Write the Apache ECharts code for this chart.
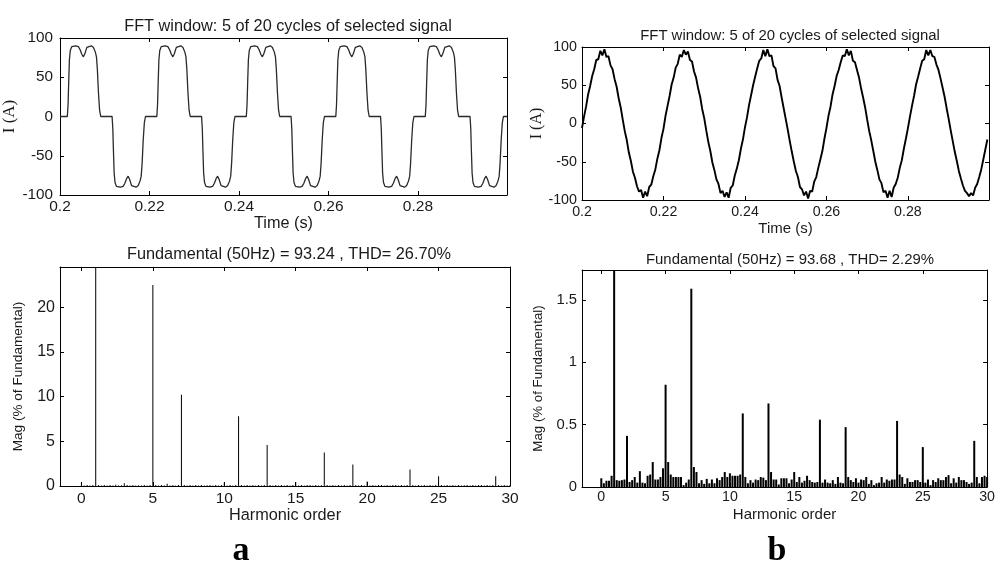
<!DOCTYPE html>
<html><head><meta charset="utf-8">
<script src="https://cdn.jsdelivr.net/npm/echarts@6/dist/echarts.min.js"></script>
<style>html,body{margin:0;padding:0;background:#fff}#c{width:998px;height:565px}</style>
</head><body><div id="c"></div>
<script>
// ---- Panel a: time signal ----
const leftTime = [
0.2,0.20164,0.2018,0.20195,0.2021,0.2023,0.20262,0.203,0.2035,0.20411,0.2045,0.2049,0.20523,0.20555,0.206,0.2064,0.207,0.20748,0.2079,0.20815,0.20835,0.2086,0.20885,0.2091,
0.21164,0.2118,0.21195,0.2121,0.2123,0.21262,0.213,0.2135,0.21411,0.2145,0.2149,0.21523,0.21555,0.216,0.2164,0.217,0.21748,0.2179,0.21815,0.21835,0.2186,0.21885,0.2191,
0.22,0.22164,0.2218,0.22195,0.2221,0.2223,0.22262,0.223,0.2235,0.22411,0.2245,0.2249,0.22523,0.22555,0.226,0.2264,0.227,0.22748,0.2279,0.22815,0.22835,0.2286,0.22885,0.2291,
0.23164,0.2318,0.23195,0.2321,0.2323,0.23262,0.233,0.2335,0.23411,0.2345,0.2349,0.23523,0.23555,0.236,0.2364,0.237,0.23748,0.2379,0.23815,0.23835,0.2386,0.23885,0.2391,
0.24,0.24164,0.2418,0.24195,0.2421,0.2423,0.24262,0.243,0.2435,0.24411,0.2445,0.2449,0.24523,0.24555,0.246,0.2464,0.247,0.24748,0.2479,0.24815,0.24835,0.2486,0.24885,0.2491,
0.25164,0.2518,0.25195,0.2521,0.2523,0.25262,0.253,0.2535,0.25411,0.2545,0.2549,0.25523,0.25555,0.256,0.2564,0.257,0.25748,0.2579,0.25815,0.25835,0.2586,0.25885,0.2591,
0.26,0.26164,0.2618,0.26195,0.2621,0.2623,0.26262,0.263,0.2635,0.26411,0.2645,0.2649,0.26523,0.26555,0.266,0.2664,0.267,0.26748,0.2679,0.26815,0.26835,0.2686,0.26885,0.2691,
0.27164,0.2718,0.27195,0.2721,0.2723,0.27262,0.273,0.2735,0.27411,0.2745,0.2749,0.27523,0.27555,0.276,0.2764,0.277,0.27748,0.2779,0.27815,0.27835,0.2786,0.27885,0.2791,
0.28,0.28164,0.2818,0.28195,0.2821,0.2823,0.28262,0.283,0.2835,0.28411,0.2845,0.2849,0.28523,0.28555,0.286,0.2864,0.287,0.28748,0.2879,0.28815,0.28835,0.2886,0.28885,0.2891,
0.29164,0.2918,0.29195,0.2921,0.2923,0.29262,0.293,0.2935,0.29411,0.2945,0.2949,0.29523,0.29555,0.296,0.2964,0.297,0.29748,0.2979,0.29815,0.29835,0.2986,0.29885,0.2991,
0.2999];
const leftCurrent = [
0,0,15,45,72,84,89,90,90,89,85,79,76,80,88,90,90,88,82,76,60,30,8,0,
0,-15,-45,-72,-84,-89,-90,-90,-89,-85,-79,-76,-80,-88,-90,-90,-88,-82,-76,-60,-30,-8,0,
0,0,15,45,72,84,89,90,90,89,85,79,76,80,88,90,90,88,82,76,60,30,8,0,
0,-15,-45,-72,-84,-89,-90,-90,-89,-85,-79,-76,-80,-88,-90,-90,-88,-82,-76,-60,-30,-8,0,
0,0,15,45,72,84,89,90,90,89,85,79,76,80,88,90,90,88,82,76,60,30,8,0,
0,-15,-45,-72,-84,-89,-90,-90,-89,-85,-79,-76,-80,-88,-90,-90,-88,-82,-76,-60,-30,-8,0,
0,0,15,45,72,84,89,90,90,89,85,79,76,80,88,90,90,88,82,76,60,30,8,0,
0,-15,-45,-72,-84,-89,-90,-90,-89,-85,-79,-76,-80,-88,-90,-90,-88,-82,-76,-60,-30,-8,0,
0,0,15,45,72,84,89,90,90,89,85,79,76,80,88,90,90,88,82,76,60,30,8,0,
0,-15,-45,-72,-84,-89,-90,-90,-89,-85,-79,-76,-80,-88,-90,-90,-88,-82,-76,-60,-30,-8,0,
0];

// ---- Panel b: time signal, sampled every 0.5 ms from 0.2 s ----
const rightStart = 0.2, rightStep = 0.0005;
const rightCurrent = [
-6,9,22,38,49,62,71,83,84,95,89,97,87,88,76,71,58,48,33,21,5,-10,-22,-38,-49,-63,-71,-82,-89,-87,-97,-89,-95,-83,-80,-69,-60,-46,-35,-19,
-7,10,23,36,51,60,73,78,90,87,96,90,94,83,81,68,60,46,35,19,7,-9,-24,-36,-51,-61,-73,-79,-91,-88,-96,-90,-97,-84,-81,-68,-59,-48,-33,-21,
-5,8,24,37,50,61,72,82,85,96,88,97,88,89,75,72,57,49,34,20,6,-8,-23,-37,-50,-62,-70,-83,-86,-94,-89,-98,-88,-89,-76,-70,-58,-47,-36,-20,
-6,10,22,38,49,62,70,80,89,88,97,89,95,82,80,70,60,46,34,21,5,-10,-22,-36,-50,-61,-73,-78,-90,-88,-97,-88,-96,-84,-79,-71,-58,-48,-33,-20,
-6,9,23,36,51,61,72,82,84,96,89,96,88,87,77,70,59,47,35,20,6,-9,-23,-37,-49,-62,-72,-81,-88,-91,-95,-91,-94,-84,-79,-70,-60,-47,-34,-21];

// ---- Spectra: bins every 0.2 harmonic order from 0 to 30 ----
const binStep = 0.2;
const leftSpectrum = [
0.4,0.05,0.12,0.05,0.1,
100,0.1,0.05,0.12,0.06,
0.1,0.05,0.13,0.05,0.08,
0.3,0.1,0.05,0.12,0.05,
0.09,0.05,0.12,0.06,0.1,
22.5,0.1,0.05,0.12,0.05,
0.25,0.05,0.11,0.05,0.1,
10.2,0.1,0.06,0.12,0.05,
0.1,0.05,0.12,0.05,0.09,
0.12,0.05,0.1,0.06,0.12,
0.4,0.05,0.1,0.05,0.12,
7.8,0.1,0.05,0.12,0.05,
0.1,0.06,0.12,0.05,0.1,
4.6,0.1,0.05,0.11,0.05,
0.1,0.05,0.12,0.05,0.1,
0.45,0.05,0.1,0.06,0.12,
0.1,0.05,0.12,0.05,0.09,
3.75,0.1,0.05,0.12,0.05,
0.1,0.05,0.12,0.06,0.1,
2.4,0.1,0.05,0.12,0.05,
0.5,0.05,0.1,0.05,0.12,
0.1,0.06,0.12,0.05,0.1,
0.12,0.05,0.1,0.05,0.11,
1.85,0.1,0.05,0.12,0.05,
0.1,0.05,0.12,0.05,0.1,
1.1,0.1,0.06,0.12,0.05,
0.1,0.05,0.12,0.05,0.09,
0.12,0.05,0.1,0.05,0.12,
0.1,0.06,0.12,0.05,0.1,
1.1,0.1,0.05,0.12,0.05,
0.1];
const rightSpectrum = [
0.07,0.03,0.05,0.05,0.09,
100,0.055,0.05,0.055,0.06,
0.41,0.04,0.055,0.08,0.035,
0.127,0.035,0.03,0.09,0.10,
0.20,0.06,0.06,0.08,0.15,
0.82,0.20,0.10,0.08,0.08,
0.08,0.08,0.015,0.035,0.06,
1.59,0.16,0.12,0.03,0.055,
0.025,0.065,0.03,0.06,0.03,
0.07,0.055,0.08,0.12,0.08,
0.11,0.09,0.09,0.09,0.10,
0.59,0.08,0.03,0.055,0.035,
0.06,0.055,0.08,0.075,0.055,
0.67,0.12,0.06,0.06,0.02,
0.07,0.07,0.07,0.03,0.06,
0.12,0.04,0.08,0.035,0.05,
0.09,0.055,0.04,0.035,0.04,
0.54,0.035,0.06,0.035,0.03,
0.055,0.025,0.08,0.035,0.03,
0.48,0.08,0.055,0.04,0.07,
0.035,0.06,0.055,0.08,0.025,
0.055,0.015,0.03,0.035,0.08,
0.035,0.06,0.05,0.06,0.06,
0.53,0.10,0.08,0.025,0.07,
0.04,0.04,0.055,0.055,0.04,
0.32,0.035,0.06,0.015,0.055,
0.04,0.07,0.055,0.055,0.08,
0.095,0.03,0.07,0.035,0.08,
0.055,0.055,0.04,0.025,0.035,
0.37,0.08,0.03,0.08,0.09,
0.08];

// ---- Tick labels ----
const timeTicks = [0.2,0.22,0.24,0.26,0.28];
const currentTicks = [-100,-50,0,50,100];
const harmonicTicks = [0,5,10,15,20,25,30];
const leftMagTicks = [0,5,10,15,20];
const rightMagTicks = [0,0.5,1,1.5];

const TXT = '#1a1a1a';
const SANS = 'Liberation Sans, Arial, sans-serif';
const SERIF = 'Liberation Serif, Times New Roman, serif';

function xAxes(gi, min, max, ticks, name, fs, nameGap, margin) {
  return [
    {gridIndex: gi, type: 'value', min, max, position: 'bottom',
     name, nameLocation: 'middle', nameGap,
     nameTextStyle: {fontSize: fs, color: TXT, fontFamily: SANS},
     axisLine: {show: true, onZero: false, lineStyle: {color: '#000', width: 1}},
     axisTick: {show: true, inside: true, length: 4, customValues: ticks, lineStyle: {color: '#000'}},
     axisLabel: {customValues: ticks, margin, fontSize: fs - 0.8, color: TXT, fontFamily: SANS},
     splitLine: {show: false}},
    {gridIndex: gi, type: 'value', min, max, position: 'top',
     axisLine: {show: true, onZero: false, lineStyle: {color: '#000', width: 1}},
     axisTick: {show: true, inside: true, length: 4, customValues: ticks, lineStyle: {color: '#000'}},
     axisLabel: {show: false}, splitLine: {show: false}}
  ];
}
function yAxes(gi, min, max, ticks, name, fs, nameFs, nameFont, nameGap, margin) {
  return [
    {gridIndex: gi, type: 'value', min, max, position: 'left',
     name, nameLocation: 'middle', nameGap,
     nameTextStyle: {fontSize: nameFs, color: TXT, fontFamily: nameFont},
     axisLine: {show: true, onZero: false, lineStyle: {color: '#000', width: 1}},
     axisTick: {show: true, inside: true, length: 4, customValues: ticks, lineStyle: {color: '#000'}},
     axisLabel: {customValues: ticks, margin, fontSize: fs, color: TXT, fontFamily: SANS},
     splitLine: {show: false}},
    {gridIndex: gi, type: 'value', min, max, position: 'right',
     axisLine: {show: true, onZero: false, lineStyle: {color: '#000', width: 1}},
     axisTick: {show: true, inside: true, length: 4, customValues: ticks, lineStyle: {color: '#000'}},
     axisLabel: {show: false}, splitLine: {show: false}}
  ];
}

const leftWave = leftTime.map((t, i) => [t, leftCurrent[i]]);
const rightWave = rightCurrent.map((v, i) => [rightStart + i * rightStep, v]);
const leftBars = leftSpectrum.map((v, i) => [i * binStep, v]);
const rightBars = rightSpectrum.map((v, i) => [i * binStep, v]);

const chart = echarts.init(document.getElementById('c'), null, {renderer: 'canvas'});
chart.setOption({
  animation: false,
  backgroundColor: '#fff',
  title: [
    {text: 'FFT window: 5 of 20 cycles of selected signal', left: 283, top: 14, textAlign: 'center',
     textStyle: {fontSize: 16.3, fontWeight: 'normal', color: TXT, fontFamily: SANS}},
    {text: 'FFT window: 5 of 20 cycles of selected signal', left: 785, top: 23, textAlign: 'center',
     textStyle: {fontSize: 14.9, fontWeight: 'normal', color: TXT, fontFamily: SANS}},
    {text: 'Fundamental (50Hz) = 93.24 , THD= 26.70%', left: 284, top: 242, textAlign: 'center',
     textStyle: {fontSize: 16.3, fontWeight: 'normal', color: TXT, fontFamily: SANS}},
    {text: 'Fundamental (50Hz) = 93.68 , THD= 2.29%', left: 785, top: 247, textAlign: 'center',
     textStyle: {fontSize: 14.9, fontWeight: 'normal', color: TXT, fontFamily: SANS}},
    {text: 'a', left: 236, top: 529, textAlign: 'center',
     textStyle: {fontSize: 34, fontWeight: 'bold', color: '#000', fontFamily: SERIF}},
    {text: 'b', left: 772, top: 529, textAlign: 'center',
     textStyle: {fontSize: 34, fontWeight: 'bold', color: '#000', fontFamily: SERIF}}
  ],
  grid: [
    {left: 60, top: 38, width: 447, height: 157},
    {left: 582, top: 47, width: 407, height: 153},
    {left: 60, top: 267, width: 450, height: 219},
    {left: 582, top: 270, width: 411, height: 217}
  ],
  xAxis: [
    ...xAxes(0, 0.2, 0.2999, timeTicks, 'Time (s)', 16.3, 20, 4),
    ...xAxes(1, 0.2, 0.2999, timeTicks, 'Time (s)', 15, 21, 5),
    ...xAxes(2, -1.5, 30, harmonicTicks, 'Harmonic order', 16.3, 21, 5),
    ...xAxes(3, -1.5, 30, harmonicTicks, 'Harmonic order', 15, 20, 3)
  ],
  yAxis: [
    ...yAxes(0, -100, 100, currentTicks, 'I (A)', 15.3, 17, SERIF, 23, 7),
    ...yAxes(1, -100, 100, currentTicks, 'I (A)', 14.3, 16, SERIF, 24, 5),
    ...yAxes(2, 0, 24.5, leftMagTicks, 'Mag (% of Fundamental)', 16, 13.6, SANS, 35, 5),
    ...yAxes(3, 0, 1.74, rightMagTicks, 'Mag (% of Fundamental)', 14.8, 13.3, SANS, 37, 5)
  ],
  series: [
    {type: 'line', xAxisIndex: 0, yAxisIndex: 0, data: leftWave, showSymbol: false, clip: true,
     lineStyle: {color: '#2a2a2a', width: 1.3}},
    {type: 'line', xAxisIndex: 2, yAxisIndex: 2, data: rightWave, showSymbol: false, clip: true,
     lineStyle: {color: '#000', width: 1.9}},
    {type: 'bar', xAxisIndex: 4, yAxisIndex: 4, data: leftBars, barWidth: 1, clip: true,
     itemStyle: {color: '#000'}},
    {type: 'bar', xAxisIndex: 6, yAxisIndex: 6, data: rightBars, barWidth: 2, clip: true,
     itemStyle: {color: '#000'}}
  ]
});
</script></body></html>
